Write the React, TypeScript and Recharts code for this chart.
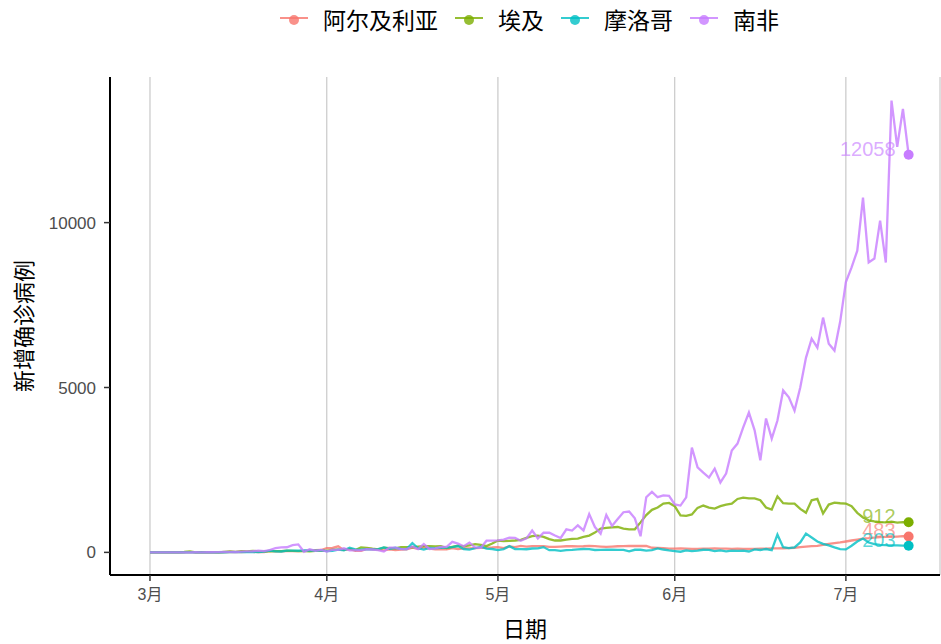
import React from 'react';
import { LineChart, Line, XAxis, YAxis, CartesianGrid, Label } from 'recharts';

// 2020-03-01 .. 2020-07-12, one value per day
const countries = ['阿尔及利亚', '埃及', '摩洛哥', '南非'];
const colors = ['#F8766D', '#7CAE00', '#00BFC4', '#C77CFF'];

const monthTicks = [0, 31, 61, 92, 122];
const monthLabels = ['3月', '4月', '5月', '6月', '7月'];
const yTicks = [0, 5000, 10000];

const algeriaMar = [0, 1, 2, 0, 7, 2, 4, 0, 2, 0, 0, 4, 1, 0, 11, 6, 11, 13, 15, 8, 12, 49, 29, 33, 38, 37, 40, 45, 57, 69, 73];
const algeriaApr = [132, 139, 185, 69, 103, 45, 45, 104, 95, 94, 64, 89, 69, 87, 95, 146, 108, 150, 116, 89, 99, 93, 129, 97, 120, 121, 132, 135, 144, 148];
const algeriaMay = [158, 130, 179, 159, 195, 174, 189, 190, 187, 165, 168, 176, 186, 192, 182, 186, 198, 190, 176, 165, 176, 186, 190, 195, 193, 197, 194, 140, 137, 127, 115];
const algeriaJun = [113, 119, 116, 107, 104, 111, 116, 119, 114, 112, 105, 111, 102, 108, 108, 115, 116, 119, 120, 125, 130, 140, 160, 175, 190, 200, 230, 260, 280, 300];
const algeriaJul = [330, 360, 390, 420, 430, 450, 460, 470, 470, 480, 490, 483];

const egyptMar = [0, 0, 0, 0, 0, 2, 12, 33, 1, 4, 4, 1, 0, 13, 26, 16, 40, 30, 46, 29, 29, 33, 39, 40, 54, 46, 39, 40, 33, 47, 54];
const egyptApr = [46, 86, 85, 85, 103, 69, 149, 139, 110, 94, 145, 126, 125, 160, 155, 156, 171, 188, 189, 185, 189, 129, 168, 201, 183, 215, 248, 226, 189, 269];
const egyptMay = [358, 340, 350, 360, 380, 440, 490, 510, 470, 400, 360, 360, 390, 410, 420, 470, 510, 600, 720, 745, 760, 770, 720, 700, 700, 910, 1130, 1290, 1360, 1480, 1500];
const egyptJun = [1400, 1120, 1110, 1150, 1350, 1420, 1360, 1330, 1400, 1450, 1480, 1620, 1660, 1640, 1640, 1580, 1360, 1300, 1700, 1490, 1480, 1480, 1320, 1200, 1580, 1620, 1180, 1450, 1510, 1490];
const egyptJul = [1480, 1400, 1200, 1060, 970, 940, 920, 910, 930, 900, 920, 912];

const moroccoMar = [0, 1, 0, 0, 0, 0, 0, 0, 0, 0, 3, 1, 1, 0, 10, 9, 10, 9, 14, 8, 20, 52, 28, 27, 55, 55, 50, 63, 57, 54, 61];
const moroccoApr = [37, 48, 83, 62, 139, 91, 85, 101, 94, 100, 148, 107, 140, 106, 99, 280, 124, 86, 135, 130, 139, 144, 160, 193, 102, 82, 125, 171, 113, 102];
const moroccoMay = [71, 100, 190, 99, 98, 95, 118, 120, 160, 67, 70, 45, 68, 75, 88, 102, 97, 72, 77, 79, 80, 74, 77, 33, 79, 79, 54, 67, 123, 87, 59];
const moroccoJun = [38, 20, 60, 37, 52, 80, 76, 36, 59, 31, 52, 45, 53, 27, 88, 73, 102, 67, 539, 160, 130, 150, 300, 570, 450, 330, 260, 210, 150, 100];
const moroccoJul = [90, 200, 330, 420, 300, 250, 230, 220, 215, 210, 205, 203];

const southAfricaMar = [0, 0, 0, 0, 1, 0, 1, 1, 4, 0, 6, 4, 8, 14, 13, 11, 23, 31, 34, 52, 38, 72, 128, 152, 155, 218, 243, 17, 93, 48, 73];
const southAfricaApr = [27, 82, 76, 123, 62, 69, 61, 96, 87, 69, 25, 145, 144, 99, 100, 178, 99, 251, 103, 124, 165, 165, 318, 267, 188, 297, 154, 142, 354, 354];
const southAfricaMay = [365, 385, 447, 437, 352, 424, 663, 424, 595, 595, 511, 437, 698, 663, 818, 665, 1160, 767, 567, 1134, 803, 1011, 1218, 1240, 1032, 490, 1673, 1837, 1673, 1727, 1716];
const southAfricaJun = [1455, 1420, 1670, 3180, 2580, 2420, 2270, 2540, 2120, 2390, 3090, 3300, 3790, 4240, 3700, 2790, 4060, 3450, 4000, 4910, 4700, 4300, 5000, 5900, 6480, 6210, 7120, 6330, 6120, 7000];
const southAfricaJul = [8200, 8640, 9150, 10760, 8790, 8910, 10060, 8790, 13700, 12300, 13450, 12058];

const algeria = [...algeriaMar, ...algeriaApr, ...algeriaMay, ...algeriaJun, ...algeriaJul];
const egypt = [...egyptMar, ...egyptApr, ...egyptMay, ...egyptJun, ...egyptJul];
const morocco = [...moroccoMar, ...moroccoApr, ...moroccoMay, ...moroccoJun, ...moroccoJul];
const southAfrica = [...southAfricaMar, ...southAfricaApr, ...southAfricaMay, ...southAfricaJun, ...southAfricaJul];

const series = [algeria, egypt, morocco, southAfrica];
const lastIndex = algeria.length - 1;

const data = algeria.map((_, i) => {
  const row: Record<string, number> = { day: i };
  series.forEach((s, k) => {
    row['s' + k] = s[i];
  });
  return row;
});

const cjk = '"Noto Sans CJK SC", "Liberation Sans", sans-serif';
const latin = '"Liberation Sans", Arial, "Noto Sans CJK SC", sans-serif';

// only the last point gets a dot and a value label
const endDot = (color: string) => (props: any) => {
  const { cx, cy, index, value } = props;
  if (index !== lastIndex) return <g key={'d' + index} />;
  return (
    <g key={'d' + index}>
      <text
        x={cx - 13}
        y={cy - 6}
        textAnchor="end"
        dominantBaseline="central"
        fill={color}
        fillOpacity={0.65}
        fontSize={20}
        fontFamily={latin}
      >
        {Array.isArray(value) ? value[1] : value}
      </text>
      <circle cx={cx} cy={cy} r={5} fill={color} />
    </g>
  );
};

const LegendKey = ({ color }: { color: string }) => (
  <svg width={28} height={20} style={{ display: 'block' }}>
    <line x1={0} y1={9} x2={28} y2={9} stroke={color} strokeWidth={2} strokeOpacity={0.8} />
    <circle cx={14} cy={11} r={5} fill={color} fillOpacity={0.8} />
  </svg>
);

const App: React.FC = () => {
  return (
    <div style={{ position: 'absolute', left: 0, top: 0, width: 941, height: 644, background: '#fff' }}>
      <div
        style={{
          position: 'absolute',
          left: 280,
          top: 4,
          display: 'flex',
          alignItems: 'center',
          fontFamily: cjk,
          fontSize: 23,
          color: '#000',
          lineHeight: '30px',
        }}
      >
        {countries.map((c, i) => (
          <div key={c} style={{ display: 'flex', alignItems: 'center', marginRight: 17 }}>
            <LegendKey color={colors[i]} />
            <span style={{ marginLeft: 15 }}>{c}</span>
          </div>
        ))}
      </div>
      <LineChart width={941} height={644} data={data} margin={{ top: 77, right: 1, bottom: 0, left: 0 }}>
        <CartesianGrid horizontal={false} stroke="#BEBEBE" strokeWidth={1} />
        <XAxis
          dataKey="day"
          type="number"
          domain={[-7.01, 138.5]}
          allowDataOverflow
          ticks={monthTicks}
          tickFormatter={(v: number) => monthLabels[monthTicks.indexOf(v)]}
          height={69}
          axisLine={{ stroke: '#000', strokeWidth: 2 }}
          tickLine={{ stroke: '#333', strokeWidth: 1.5 }}
          tickSize={6}
          tickMargin={8}
          tick={{ fill: '#4D4D4D', fontSize: 16, fontFamily: latin }}
        >
          <Label
            content={() => (
              <text x={525} y={627} textAnchor="middle" dominantBaseline="central" fontSize={22} fontFamily={cjk} fill="#000">
                日期
              </text>
            )}
          />
        </XAxis>
        <YAxis
          type="number"
          domain={[-686, 14416]}
          allowDataOverflow
          ticks={yTicks}
          width={110}
          axisLine={{ stroke: '#000', strokeWidth: 2 }}
          tickLine={{ stroke: '#333', strokeWidth: 1.5 }}
          tickSize={6}
          tickMargin={8}
          tick={{ fill: '#4D4D4D', fontSize: 17, fontFamily: latin }}
        >
          <Label
            content={() => (
              <text
                x={22}
                y={326}
                transform="rotate(-90 22 326)"
                textAnchor="middle"
                dominantBaseline="central"
                fontSize={22}
                fontFamily={cjk}
                fill="#000"
              >
                新增确诊病例
              </text>
            )}
          />
        </YAxis>
        {countries.map((c, k) => (
          <Line
            key={c}
            type="linear"
            dataKey={'s' + k}
            name={c}
            stroke={colors[k]}
            strokeOpacity={0.8}
            strokeWidth={2.3}
            dot={endDot(colors[k])}
            activeDot={false}
            isAnimationActive={false}
          />
        ))}
      </LineChart>
    </div>
  );
};

export default App;
